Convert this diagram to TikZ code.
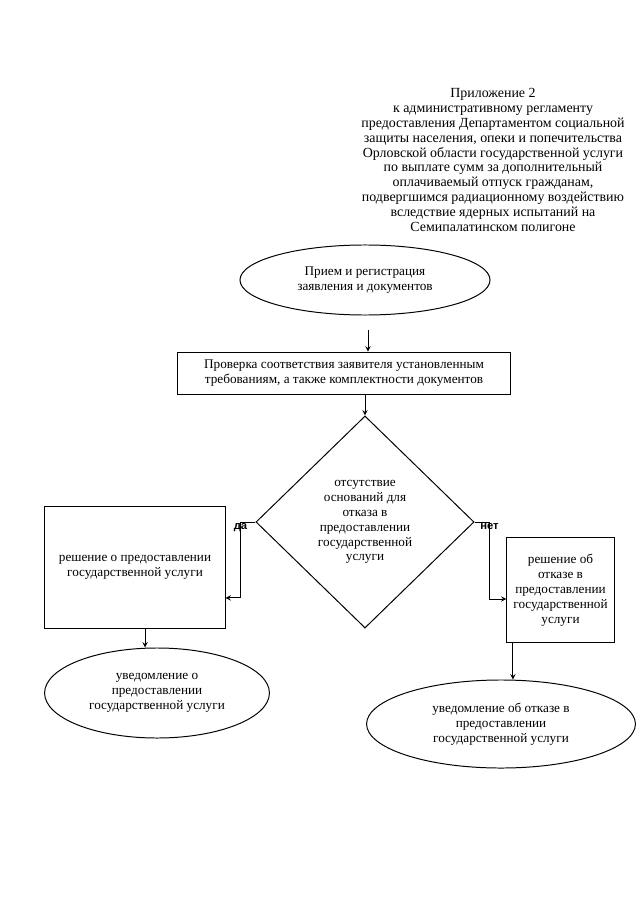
\documentclass[tikz,border=0pt]{standalone}
\usepackage{fontspec}
\setmainfont{Liberation Serif}
\newfontfamily\labelfont{Liberation Sans}
\usetikzlibrary{shapes.geometric}
\tikzset{
  txt/.style={align=center, font=\fontsize{9.4}{10.6}\selectfont},
  oval/.style={txt, draw, ellipse, inner sep=0pt},
  stepbox/.style={txt, draw, rectangle, inner sep=0pt},
  cond/.style={txt, draw, diamond, inner sep=0pt, aspect=1.03},
  yn/.style={font=\labelfont\bfseries\fontsize{8}{9}\selectfont, inner sep=1pt}
}
\begin{document}
\begin{tikzpicture}[x=0.025cm, y=-0.025cm, >=stealth, line width=0.7pt]
				\useasboundingbox (0,0) rectangle (640,905);
				\node[txt, font=\fontsize{9.9}{10.6}\selectfont] (head) at (493,160) {Приложение 2\\к административному регламенту\\предоставления Департаментом социальной\\защиты населения, опеки и попечительства\\Орловской области государственной услуги\\по выплате сумм за дополнительный\\оплачиваемый отпуск гражданам,\\подвергшимся радиационному воздействию\\вследствие ядерных испытаний на\\Семипалатинском полигоне};
				\node[oval, minimum width=6.25cm, minimum height=1.75cm] (reg) at (365,280) {Прием и регистрация\\заявления и документов};
				\node[stepbox, minimum width=8.3cm, minimum height=1.07cm] (check) at (344,373.5) {Проверка соответствия заявителя установленным\\требованиям, а также комплектности документов};
				\node[cond, minimum width=5.45cm, minimum height=5.3cm] (dec) at (365,522) {отсутствие\\оснований для\\отказа в\\предоставлении\\государственной\\услуги};
				\node[stepbox, minimum width=4.5cm, minimum height=3.03cm] (yes) at (135,567.5) {решение о предоставлении\\государственной услуги};
				\node[stepbox, minimum width=2.68cm, minimum height=2.6cm] (no) at (560.5,590) {решение об\\отказе в\\предоставлении\\государственной\\услуги};
				\node[oval, minimum width=5.62cm, minimum height=2.25cm] (noteyes) at (157,693) {уведомление о\\предоставлении\\государственной услуги};
				\node[oval, minimum width=6.72cm, minimum height=2.2cm] (noteno) at (501,724) {уведомление об отказе в\\предоставлении\\государственной услуги};
				\coordinate (start) at (368,330);
				\draw[->] (start) -- (start |- check.north);
				\draw[->] (dec.north |- check.south) -- (dec.north);
				\draw[->] (dec.west) -- ++(-15,0) node[yn, below] (lyes) {да} |- ([yshift=-0.76cm]yes.east);
				\draw[->] (dec.east) -- ++(15,0) node[yn, below] (lno) {нет} |- ([yshift=-0.225cm]no.west);
				\draw[->] ([xshift=0.25cm]yes.south) -- ([xshift=0.25cm]yes.south |- noteyes.north);
				\draw[->] ([xshift=-1.19cm]no.south) -- ([xshift=-1.19cm]no.south |- noteno.north);
			\end{tikzpicture}
\end{document}
